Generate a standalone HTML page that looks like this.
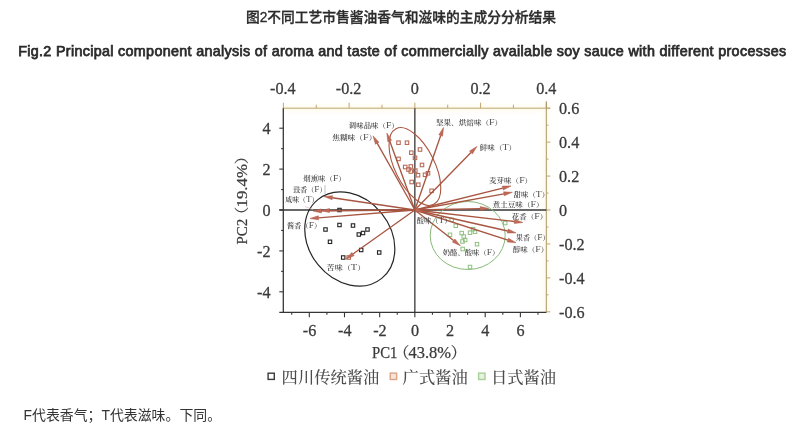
<!DOCTYPE html>
<html lang="zh">
<head>
<meta charset="utf-8">
<title>图2不同工艺市售酱油香气和滋味的主成分分析结果</title>
<style>
html,body{margin:0;padding:0;background:#fff;}
body{width:800px;height:432px;position:relative;overflow:hidden;font-family:"Liberation Sans","Noto Sans CJK SC",sans-serif;color:#2b2b2b;}
.t1{position:absolute;left:1px;top:8.3px;width:800px;text-align:center;font-size:13.75px;line-height:20px;font-weight:500;white-space:nowrap;-webkit-text-stroke:0.3px #2b2b2b;}
.t2{position:absolute;left:18.2px;top:41.3px;width:770px;font-size:14.3px;line-height:20px;font-weight:400;white-space:nowrap;letter-spacing:0.335px;-webkit-text-stroke:0.75px #2b2b2b;}
.note{position:absolute;left:23.5px;top:404.8px;font-size:13.9px;line-height:20px;white-space:nowrap;color:#333;}
svg{position:absolute;left:0;top:0;filter:blur(0.3px);}
</style>
</head>
<body>
<div class="t1">图2不同工艺市售酱油香气和滋味的主成分分析结果</div>
<div class="t2">Fig.2 Principal component analysis of aroma and taste of commercially available soy sauce with different processes</div>
<svg width="800" height="432" viewBox="0 0 800 432">
<defs><filter id="soft" x="-20%" y="-20%" width="140%" height="140%"><feGaussianBlur stdDeviation="2.2"/></filter></defs>
<g stroke="#fff3c4" stroke-width="6" fill="none" opacity="0.35" filter="url(#soft)">
<line x1="283.3" y1="108.2" x2="549.3" y2="108.2"/>
<line x1="546.3" y1="103.2" x2="546.3" y2="312.3"/>
</g>
<g stroke="#bfa672" stroke-width="1" fill="none">
<line x1="282.8" y1="108.2" x2="550.3" y2="108.2"/>
<line x1="283.40" y1="108.2" x2="283.40" y2="102.7"/>
<line x1="316.26" y1="108.2" x2="316.26" y2="104.7"/>
<line x1="349.13" y1="108.2" x2="349.13" y2="102.7"/>
<line x1="381.99" y1="108.2" x2="381.99" y2="104.7"/>
<line x1="414.85" y1="108.2" x2="414.85" y2="102.7"/>
<line x1="447.71" y1="108.2" x2="447.71" y2="104.7"/>
<line x1="480.57" y1="108.2" x2="480.57" y2="102.7"/>
<line x1="513.44" y1="108.2" x2="513.44" y2="104.7"/>
<line x1="546.30" y1="108.2" x2="546.30" y2="102.7"/>
</g>
<g stroke="#a8946a" stroke-width="1" fill="none">
<line x1="546.3" y1="101.2" x2="546.3" y2="312.8"/>
<line x1="546.3" y1="311.80" x2="550.3" y2="311.80" stroke="#bfa672"/>
<line x1="546.3" y1="294.83" x2="548.5" y2="294.83" stroke="#bfa672"/>
<line x1="546.3" y1="277.87" x2="550.3" y2="277.87" stroke="#bfa672"/>
<line x1="546.3" y1="260.90" x2="548.5" y2="260.90" stroke="#bfa672"/>
<line x1="546.3" y1="243.93" x2="550.3" y2="243.93" stroke="#bfa672"/>
<line x1="546.3" y1="226.97" x2="548.5" y2="226.97" stroke="#bfa672"/>
<line x1="546.3" y1="210.00" x2="550.3" y2="210.00" stroke="#bfa672"/>
<line x1="546.3" y1="193.03" x2="548.5" y2="193.03" stroke="#bfa672"/>
<line x1="546.3" y1="176.07" x2="550.3" y2="176.07" stroke="#bfa672"/>
<line x1="546.3" y1="159.10" x2="548.5" y2="159.10" stroke="#bfa672"/>
<line x1="546.3" y1="142.13" x2="550.3" y2="142.13" stroke="#bfa672"/>
<line x1="546.3" y1="125.17" x2="548.5" y2="125.17" stroke="#bfa672"/>
<line x1="546.3" y1="108.20" x2="550.3" y2="108.20" stroke="#bfa672"/>
</g>
<g stroke="#363636" stroke-width="1.3" fill="none">
<line x1="283.3" y1="108.2" x2="283.3" y2="312.90000000000003"/>
<line x1="279.3" y1="312.3" x2="546.3" y2="312.3" stroke-width="1.3"/>
<line x1="414.85" y1="108.2" x2="414.85" y2="312.3"/>
<line x1="279.3" y1="210.0" x2="546.3" y2="210.0"/>
</g>
<g stroke="#363636" stroke-width="1.1" fill="none">
<line x1="291.72" y1="312.3" x2="291.72" y2="314.8"/>
<line x1="309.31" y1="312.3" x2="309.31" y2="317.3"/>
<line x1="326.90" y1="312.3" x2="326.90" y2="314.8"/>
<line x1="344.49" y1="312.3" x2="344.49" y2="317.3"/>
<line x1="362.08" y1="312.3" x2="362.08" y2="314.8"/>
<line x1="379.67" y1="312.3" x2="379.67" y2="317.3"/>
<line x1="397.26" y1="312.3" x2="397.26" y2="314.8"/>
<line x1="414.85" y1="312.3" x2="414.85" y2="317.3"/>
<line x1="432.44" y1="312.3" x2="432.44" y2="314.8"/>
<line x1="450.03" y1="312.3" x2="450.03" y2="317.3"/>
<line x1="467.62" y1="312.3" x2="467.62" y2="314.8"/>
<line x1="485.21" y1="312.3" x2="485.21" y2="317.3"/>
<line x1="502.80" y1="312.3" x2="502.80" y2="314.8"/>
<line x1="520.39" y1="312.3" x2="520.39" y2="317.3"/>
<line x1="537.98" y1="312.3" x2="537.98" y2="314.8"/>
<line x1="283.3" y1="291.80" x2="279.3" y2="291.80"/>
<line x1="283.3" y1="271.35" x2="281.1" y2="271.35"/>
<line x1="283.3" y1="250.90" x2="279.3" y2="250.90"/>
<line x1="283.3" y1="230.45" x2="281.1" y2="230.45"/>
<line x1="283.3" y1="210.00" x2="279.3" y2="210.00"/>
<line x1="283.3" y1="189.55" x2="281.1" y2="189.55"/>
<line x1="283.3" y1="169.10" x2="279.3" y2="169.10"/>
<line x1="283.3" y1="148.65" x2="281.1" y2="148.65"/>
<line x1="283.3" y1="128.20" x2="279.3" y2="128.20"/>
</g>
<ellipse cx="349.8" cy="239" rx="50.7" ry="40.9" transform="rotate(51 349.8 239)" fill="none" stroke="#262626" stroke-width="1.2"/>
<ellipse cx="414.9" cy="166.5" rx="42.3" ry="19.8" transform="rotate(63.5 414.9 166.5)" fill="none" stroke="#a85642" stroke-width="1.1"/>
<ellipse cx="467.7" cy="235.5" rx="37.5" ry="34" fill="none" stroke="#86b878" stroke-width="1"/>
<rect x="337.80" y="208.30" width="3.4" height="3.4" fill="none" stroke="#222" stroke-width="1.1"/>
<rect x="323.80" y="227.80" width="3.4" height="3.4" fill="none" stroke="#222" stroke-width="1.1"/>
<rect x="337.80" y="223.30" width="3.4" height="3.4" fill="none" stroke="#222" stroke-width="1.1"/>
<rect x="351.30" y="223.80" width="3.4" height="3.4" fill="none" stroke="#222" stroke-width="1.1"/>
<rect x="328.30" y="240.10" width="3.4" height="3.4" fill="none" stroke="#222" stroke-width="1.1"/>
<rect x="357.10" y="232.80" width="3.4" height="3.4" fill="none" stroke="#222" stroke-width="1.1"/>
<rect x="361.30" y="231.30" width="3.4" height="3.4" fill="none" stroke="#222" stroke-width="1.1"/>
<rect x="365.80" y="227.80" width="3.4" height="3.4" fill="none" stroke="#222" stroke-width="1.1"/>
<rect x="359.50" y="248.30" width="3.4" height="3.4" fill="none" stroke="#222" stroke-width="1.1"/>
<rect x="377.50" y="250.80" width="3.4" height="3.4" fill="none" stroke="#222" stroke-width="1.1"/>
<rect x="341.50" y="255.80" width="3.4" height="3.4" fill="none" stroke="#222" stroke-width="1.1"/>
<rect x="396.75" y="140.95" width="3.5" height="3.5" fill="none" stroke="#b86a58" stroke-width="1.1"/>
<rect x="405.25" y="140.95" width="3.5" height="3.5" fill="none" stroke="#b86a58" stroke-width="1.1"/>
<rect x="418.25" y="147.75" width="3.5" height="3.5" fill="none" stroke="#b86a58" stroke-width="1.1"/>
<rect x="409.55" y="150.95" width="3.5" height="3.5" fill="none" stroke="#b86a58" stroke-width="1.1"/>
<rect x="396.75" y="157.15" width="3.5" height="3.5" fill="none" stroke="#b86a58" stroke-width="1.1"/>
<rect x="413.25" y="156.05" width="3.5" height="3.5" fill="none" stroke="#b86a58" stroke-width="1.1"/>
<rect x="403.45" y="165.25" width="3.5" height="3.5" fill="none" stroke="#b86a58" stroke-width="1.1"/>
<rect x="409.05" y="164.75" width="3.5" height="3.5" fill="none" stroke="#b86a58" stroke-width="1.1"/>
<rect x="420.25" y="163.25" width="3.5" height="3.5" fill="none" stroke="#b86a58" stroke-width="1.1"/>
<rect x="406.75" y="167.75" width="3.5" height="3.5" fill="none" stroke="#b86a58" stroke-width="1.1"/>
<rect x="409.05" y="169.75" width="3.5" height="3.5" fill="none" stroke="#b86a58" stroke-width="1.1"/>
<rect x="413.55" y="168.85" width="3.5" height="3.5" fill="none" stroke="#b86a58" stroke-width="1.1"/>
<rect x="416.25" y="173.45" width="3.5" height="3.5" fill="none" stroke="#b86a58" stroke-width="1.1"/>
<rect x="423.25" y="173.05" width="3.5" height="3.5" fill="none" stroke="#b86a58" stroke-width="1.1"/>
<rect x="426.25" y="171.55" width="3.5" height="3.5" fill="none" stroke="#b86a58" stroke-width="1.1"/>
<rect x="409.95" y="180.25" width="3.5" height="3.5" fill="none" stroke="#b86a58" stroke-width="1.1"/>
<rect x="416.55" y="182.95" width="3.5" height="3.5" fill="none" stroke="#b86a58" stroke-width="1.1"/>
<rect x="429.85" y="189.05" width="3.5" height="3.5" fill="none" stroke="#b86a58" stroke-width="1.1"/>
<rect x="346.95" y="255.75" width="3.5" height="3.5" fill="none" stroke="#b86a58" stroke-width="1.1"/>
<rect x="449.95" y="218.05" width="3.5" height="3.5" fill="none" stroke="#8fc080" stroke-width="1"/>
<rect x="454.05" y="224.05" width="3.5" height="3.5" fill="none" stroke="#8fc080" stroke-width="1"/>
<rect x="448.25" y="233.05" width="3.5" height="3.5" fill="none" stroke="#8fc080" stroke-width="1"/>
<rect x="459.95" y="231.35" width="3.5" height="3.5" fill="none" stroke="#8fc080" stroke-width="1"/>
<rect x="461.95" y="234.75" width="3.5" height="3.5" fill="none" stroke="#8fc080" stroke-width="1"/>
<rect x="463.45" y="238.25" width="3.5" height="3.5" fill="none" stroke="#8fc080" stroke-width="1"/>
<rect x="460.75" y="239.75" width="3.5" height="3.5" fill="none" stroke="#8fc080" stroke-width="1"/>
<rect x="468.25" y="230.95" width="3.5" height="3.5" fill="none" stroke="#8fc080" stroke-width="1"/>
<rect x="471.35" y="227.45" width="3.5" height="3.5" fill="none" stroke="#8fc080" stroke-width="1"/>
<rect x="473.25" y="229.95" width="3.5" height="3.5" fill="none" stroke="#8fc080" stroke-width="1"/>
<rect x="475.25" y="242.45" width="3.5" height="3.5" fill="none" stroke="#8fc080" stroke-width="1"/>
<rect x="460.95" y="247.25" width="3.5" height="3.5" fill="none" stroke="#8fc080" stroke-width="1"/>
<rect x="468.25" y="265.25" width="3.5" height="3.5" fill="none" stroke="#8fc080" stroke-width="1"/>
<rect x="503.45" y="221.25" width="3.5" height="3.5" fill="none" stroke="#8fc080" stroke-width="1"/>
<line x1="414.85" y1="210.0" x2="377.18" y2="143.20" stroke="#a85642" stroke-width="1.35"/>
<polygon points="373.00,135.80 378.92,142.22 375.43,144.19" fill="#c26a58" stroke="#a85642" stroke-width="0.5"/>
<line x1="414.85" y1="210.0" x2="389.71" y2="140.99" stroke="#a85642" stroke-width="1.35"/>
<polygon points="386.80,133.00 391.59,140.30 387.83,141.67" fill="#c26a58" stroke="#a85642" stroke-width="0.5"/>
<line x1="414.85" y1="210.0" x2="440.71" y2="135.53" stroke="#a85642" stroke-width="1.35"/>
<polygon points="443.50,127.50 442.60,136.19 438.82,134.87" fill="#c26a58" stroke="#a85642" stroke-width="0.5"/>
<line x1="414.85" y1="210.0" x2="470.96" y2="152.48" stroke="#a85642" stroke-width="1.35"/>
<polygon points="476.90,146.40 472.40,153.88 469.53,151.09" fill="#c26a58" stroke="#a85642" stroke-width="0.5"/>
<line x1="414.85" y1="210.0" x2="502.75" y2="188.06" stroke="#a85642" stroke-width="1.35"/>
<polygon points="511.00,186.00 503.24,190.00 502.27,186.12" fill="#c26a58" stroke="#a85642" stroke-width="0.5"/>
<line x1="414.85" y1="210.0" x2="503.94" y2="193.82" stroke="#a85642" stroke-width="1.35"/>
<polygon points="512.30,192.30 504.29,195.79 503.58,191.85" fill="#c26a58" stroke="#a85642" stroke-width="0.5"/>
<line x1="414.85" y1="210.0" x2="480.30" y2="208.58" stroke="#a85642" stroke-width="1.35"/>
<polygon points="488.80,208.40 480.35,210.58 480.26,206.58" fill="#c26a58" stroke="#a85642" stroke-width="0.5"/>
<line x1="414.85" y1="210.0" x2="514.46" y2="221.52" stroke="#a85642" stroke-width="1.35"/>
<polygon points="522.90,222.50 514.23,223.51 514.69,219.54" fill="#c26a58" stroke="#a85642" stroke-width="0.5"/>
<line x1="414.85" y1="210.0" x2="507.71" y2="231.02" stroke="#a85642" stroke-width="1.35"/>
<polygon points="516.00,232.90 507.27,232.97 508.15,229.07" fill="#c26a58" stroke="#a85642" stroke-width="0.5"/>
<line x1="414.85" y1="210.0" x2="507.91" y2="240.09" stroke="#a85642" stroke-width="1.35"/>
<polygon points="516.00,242.70 507.30,241.99 508.53,238.18" fill="#c26a58" stroke="#a85642" stroke-width="0.5"/>
<line x1="414.85" y1="210.0" x2="453.62" y2="240.54" stroke="#a85642" stroke-width="1.35"/>
<polygon points="460.30,245.80 452.39,242.11 454.86,238.97" fill="#c26a58" stroke="#a85642" stroke-width="0.5"/>
<line x1="414.85" y1="210.0" x2="415.61" y2="210.12" stroke="#a85642" stroke-width="1.35"/>
<polygon points="424.00,211.50 415.29,212.10 415.94,208.15" fill="#c26a58" stroke="#a85642" stroke-width="0.5"/>
<line x1="414.85" y1="210.0" x2="332.41" y2="197.75" stroke="#a85642" stroke-width="1.35"/>
<polygon points="324.00,196.50 332.70,195.77 332.11,199.73" fill="#c26a58" stroke="#a85642" stroke-width="0.5"/>
<line x1="414.85" y1="210.0" x2="321.50" y2="210.92" stroke="#a85642" stroke-width="1.35"/>
<polygon points="313.00,211.00 321.48,208.92 321.52,212.92" fill="#c26a58" stroke="#a85642" stroke-width="0.5"/>
<line x1="414.85" y1="210.0" x2="329.50" y2="210.55" stroke="#a85642" stroke-width="1.35"/>
<polygon points="321.00,210.60 329.49,208.55 329.51,212.55" fill="#c26a58" stroke="#a85642" stroke-width="0.5"/>
<line x1="414.85" y1="210.0" x2="318.47" y2="217.81" stroke="#a85642" stroke-width="1.35"/>
<polygon points="310.00,218.50 318.31,215.82 318.63,219.81" fill="#c26a58" stroke="#a85642" stroke-width="0.5"/>
<line x1="414.85" y1="210.0" x2="352.93" y2="254.07" stroke="#a85642" stroke-width="1.35"/>
<polygon points="346.00,259.00 351.77,252.44 354.08,255.70" fill="#c26a58" stroke="#a85642" stroke-width="0.5"/>
<line x1="325" y1="185" x2="325" y2="194" stroke="#999" stroke-width="0.6"/>
<line x1="305" y1="206.5" x2="313" y2="209.5" stroke="#d9a9a0" stroke-width="0.6"/>
<g font-family="'Liberation Serif', 'Noto Serif CJK SC', serif" font-size="7.0" font-weight="600" fill="#4a4a4a">
<text transform="translate(348.80 128.16) scale(1.062 1)">调味品味（<tspan font-size="1.3em" font-weight="400">F</tspan>）</text>
<text transform="translate(332.19 140.16) scale(1.105 1)">焦糊味（<tspan font-size="1.3em" font-weight="400">F</tspan>）</text>
<text transform="translate(435.90 124.56) scale(1.089 1)">坚果、烘焙味（<tspan font-size="1.3em" font-weight="400">F</tspan>）</text>
<text transform="translate(479.80 149.96) scale(1.082 1)">鲜味（<tspan font-size="1.3em" font-weight="400">T</tspan>）</text>
<text transform="translate(489.10 182.66) scale(1.074 1)">麦芽味（<tspan font-size="1.3em" font-weight="400">F</tspan>）</text>
<text transform="translate(513.50 196.76) scale(1.064 1)">甜味（<tspan font-size="1.3em" font-weight="400">T</tspan>）</text>
<text transform="translate(492.60 207.06) scale(1.086 1)">煮土豆味（<tspan font-size="1.3em" font-weight="400">F</tspan>）</text>
<text transform="translate(511.70 218.66) scale(1.078 1)">花香（<tspan font-size="1.3em" font-weight="400">F</tspan>）</text>
<text transform="translate(515.81 240.16) scale(1.022 1)">果香（<tspan font-size="1.3em" font-weight="400">F</tspan>）</text>
<text transform="translate(512.80 252.06) scale(1.075 1)">醇味（<tspan font-size="1.3em" font-weight="400">F</tspan>）</text>
<text transform="translate(442.80 254.66) scale(1.047 1)">奶酪、酸味（<tspan font-size="1.3em" font-weight="400">F</tspan>）</text>
<text transform="translate(416.71 223.16) scale(1.037 1)">酸味（<tspan font-size="1.3em" font-weight="400">T</tspan>）</text>
<text transform="translate(303.30 181.16) scale(1.060 1)">烟熏味（<tspan font-size="1.3em" font-weight="400">F</tspan>）</text>
<text transform="translate(293.22 191.66) scale(1.008 1)">豉香（<tspan font-size="1.3em" font-weight="400">F</tspan>）</text>
<text transform="translate(285.22 202.16) scale(0.991 1)">咸味（<tspan font-size="1.3em" font-weight="400">T</tspan>）</text>
<text transform="translate(287.12 228.16) scale(1.029 1)">酱香（<tspan font-size="1.3em" font-weight="400">F</tspan>）</text>
<text transform="translate(326.58 270.06) scale(1.158 1)">苦味（<tspan font-size="1.3em" font-weight="400">T</tspan>）</text>
</g>
<g font-family="'Liberation Serif', serif" font-size="17.6" fill="#3a3a3a" stroke="#3a3a3a" stroke-width="0.3">
<text transform="translate(309.61 336.20) scale(0.92 1)" text-anchor="middle">-6</text>
<text transform="translate(344.79 336.20) scale(0.92 1)" text-anchor="middle">-4</text>
<text transform="translate(379.97 336.20) scale(0.92 1)" text-anchor="middle">-2</text>
<text transform="translate(414.95 336.20) scale(0.92 1)" text-anchor="middle">0</text>
<text transform="translate(450.13 336.20) scale(0.92 1)" text-anchor="middle">2</text>
<text transform="translate(485.31 336.20) scale(0.92 1)" text-anchor="middle">4</text>
<text transform="translate(520.49 336.20) scale(0.92 1)" text-anchor="middle">6</text>
<text transform="translate(270.60 297.70) scale(0.92 1)" text-anchor="end">-4</text>
<text transform="translate(270.60 256.80) scale(0.92 1)" text-anchor="end">-2</text>
<text transform="translate(270.60 215.90) scale(0.92 1)" text-anchor="end">0</text>
<text transform="translate(270.60 175.00) scale(0.92 1)" text-anchor="end">2</text>
<text transform="translate(270.60 134.10) scale(0.92 1)" text-anchor="end">4</text>
<text transform="translate(282.90 93.60) scale(0.92 1)" text-anchor="middle">-0.4</text>
<text transform="translate(348.63 93.60) scale(0.92 1)" text-anchor="middle">-0.2</text>
<text transform="translate(414.85 93.60) scale(0.92 1)" text-anchor="middle">0</text>
<text transform="translate(480.57 93.60) scale(0.92 1)" text-anchor="middle">0.2</text>
<text transform="translate(546.30 93.60) scale(0.92 1)" text-anchor="middle">0.4</text>
<text transform="translate(559.00 317.70) scale(0.92 1)" text-anchor="start">-0.6</text>
<text transform="translate(559.00 283.77) scale(0.92 1)" text-anchor="start">-0.4</text>
<text transform="translate(559.00 249.83) scale(0.92 1)" text-anchor="start">-0.2</text>
<text transform="translate(559.00 215.90) scale(0.92 1)" text-anchor="start">0</text>
<text transform="translate(559.00 181.97) scale(0.92 1)" text-anchor="start">0.2</text>
<text transform="translate(559.00 148.03) scale(0.92 1)" text-anchor="start">0.4</text>
<text transform="translate(559.00 114.10) scale(0.92 1)" text-anchor="start">0.6</text>
</g>
<g font-family="'Liberation Serif', 'Noto Serif CJK SC', serif" font-size="16.5" fill="#3a3a3a" stroke="#3a3a3a" stroke-width="0.25">
<g transform="translate(372 358.2)"><text x="0" y="0" textLength="25.4" lengthAdjust="spacingAndGlyphs">PC1</text><text x="21.8" y="0" font-size="15.5">（</text><text x="36.4" y="0" textLength="42.6" lengthAdjust="spacingAndGlyphs">43.8%</text><text x="78.8" y="0" font-size="15.5">）</text></g>
<g transform="translate(247.2 244.6) rotate(-90) scale(1.019 0.92)"><text x="0" y="0" textLength="25.4" lengthAdjust="spacingAndGlyphs">PC2</text><text x="21.8" y="0" font-size="15.5">（</text><text x="36.4" y="0" textLength="42.6" lengthAdjust="spacingAndGlyphs">19.4%</text><text x="78.8" y="0" font-size="15.5">）</text></g>
</g>
<g font-family="'Liberation Serif', 'Noto Serif CJK SC', serif" font-size="16.3" font-weight="500" fill="#4c4c4c">
<rect x="268.10" y="373.20" width="6.2" height="6.2" fill="none" stroke="#3a3a3a" stroke-width="1.4"/>
<text x="281.6" y="383">四川传统酱油</text>
<rect x="390.20" y="373.10" width="6.4" height="6.4" fill="#f7e4d6" stroke="#dba588" stroke-width="1.4"/>
<text x="402.6" y="383">广式酱油</text>
<rect x="478.60" y="373.10" width="6.4" height="6.4" fill="#e4f2de" stroke="#a9cf9c" stroke-width="1.4"/>
<text x="491" y="383">日式酱油</text>
</g>
</svg>
<div class="note">F代表香气；T代表滋味。下同。</div>
</body>
</html>
